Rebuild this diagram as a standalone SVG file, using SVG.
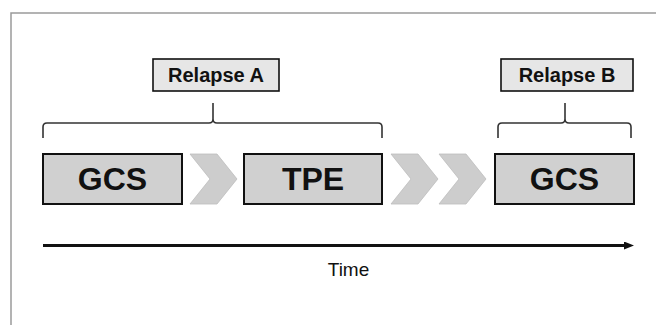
<svg xmlns="http://www.w3.org/2000/svg" width="656" height="325" viewBox="0 0 656 325">
  <style>
    .frame { fill: none; stroke: #9a9a9a; stroke-width: 1.5; }
    .box { fill: #d0d0d0; stroke: #111; stroke-width: 2; }
    .label { fill: #e6e6e6; stroke: #111; stroke-width: 1.6; }
    .chev { fill: #cdcdcd; stroke: #bdbdbd; stroke-width: 0.8; }
    .brace { fill: none; stroke: #333; stroke-width: 1.6; }
    .big { font-family: "Liberation Sans", Arial, sans-serif; font-weight: bold; font-size: 32px; fill: #111; text-anchor: middle; }
    .lab { font-family: "Liberation Sans", Arial, sans-serif; font-weight: bold; font-size: 20px; fill: #111; text-anchor: middle; }
    .time { font-family: "Liberation Sans", Arial, sans-serif; font-size: 19px; fill: #111; text-anchor: middle; }
  </style>
  <defs>
    <marker id="head" markerWidth="10" markerHeight="8" refX="0" refY="4" orient="auto" markerUnits="userSpaceOnUse">
      <path d="M0,0 L10,4 L0,8 Z" fill="#111"/>
    </marker>
  </defs>

  <rect width="656" height="325" fill="#fff"/>
  <path class="frame" d="M11,325 V13 H656"/>

  <!-- Relapse labels -->
  <g id="relapse-a">
    <rect class="label" x="153" y="59" width="126" height="32"/>
    <text class="lab" x="216" y="82">Relapse A</text>
  </g>
  <g id="relapse-b">
    <rect class="label" x="501" y="59" width="132" height="32"/>
    <text class="lab" x="567" y="82">Relapse B</text>
  </g>

  <!-- Treatment steps -->
  <g id="gcs-1">
    <rect class="box" x="43" y="154" width="139" height="50"/>
    <text class="big" x="112.5" y="190">GCS</text>
  </g>
  <g id="tpe">
    <rect class="box" x="244" y="154" width="138" height="50"/>
    <text class="big" x="313" y="190">TPE</text>
  </g>
  <g id="gcs-2">
    <rect class="box" x="495" y="154" width="139" height="50"/>
    <text class="big" x="564.5" y="190">GCS</text>
  </g>

  <g id="connectors">
    <!-- braces grouping the steps of each relapse -->
    <path class="brace" d="M43,138 V127 Q43,123 47,123 H209 Q213,123 213,119 V103 M213,119 Q213,123 217,123 H378 Q382,123 382,127 V138"/>
    <path class="brace" d="M498,138 V127 Q498,123 502,123 H561 Q565,123 565,119 V103 M565,119 Q565,123 569,123 H627 Q631,123 631,127 V138"/>

    <!-- chevrons between steps -->
    <path class="chev" d="M190,154 H217 L237,179 L217,204 H190 L210,179 Z"/>
    <path class="chev" d="M391,154 H418 L438,179 L418,204 H391 L411,179 Z"/>
    <path class="chev" d="M439,154 H466 L486,179 L466,204 H439 L459,179 Z"/>

    <!-- time axis -->
    <line x1="43" y1="245.5" x2="624" y2="245.5" stroke="#111" stroke-width="3" marker-end="url(#head)"/>
  </g>

  <text class="time" x="348.5" y="276">Time</text>
</svg>
